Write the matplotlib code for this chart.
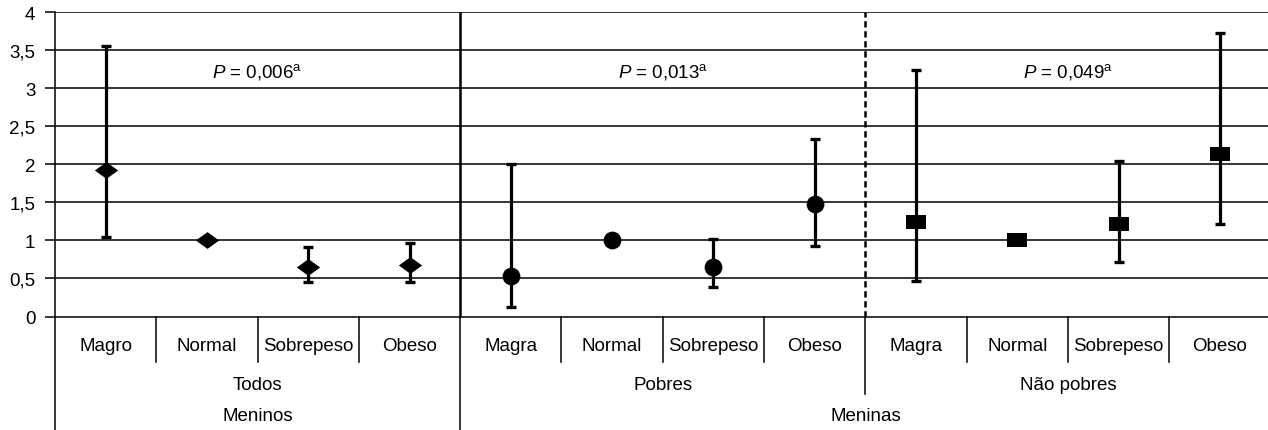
import matplotlib
matplotlib.use("Agg")
import matplotlib.pyplot as plt
import numpy as np

plt.rcParams['font.family'] = ['Liberation Sans', 'DejaVu Sans']
plt.rcParams['mathtext.fontset'] = 'custom'
plt.rcParams['mathtext.rm'] = 'Liberation Sans'
plt.rcParams['mathtext.it'] = 'Liberation Sans:italic'

# ---- data ----
cat_todos = ['Magro', 'Normal', 'Sobrepeso', 'Obeso']
cat_pobres = ['Magra', 'Normal', 'Sobrepeso', 'Obeso']
cat_naopobres = ['Magra', 'Normal', 'Sobrepeso', 'Obeso']
group_labels = ['Todos', 'Pobres', 'Não pobres']
sex_labels = ['Meninos', 'Meninas']
p_labels = ['0,006', '0,013', '0,049']

todos_val = [1.93, 1.00, 0.65, 0.67]
todos_low = [1.04, np.nan, 0.45, 0.45]
todos_high = [3.55, np.nan, 0.91, 0.97]

pobres_val = [0.53, 1.00, 0.65, 1.48]
pobres_low = [0.13, np.nan, 0.39, 0.93]
pobres_high = [2.00, np.nan, 1.02, 2.33]

naopobres_val = [1.24, 1.00, 1.21, 2.14]
naopobres_low = [0.46, np.nan, 0.72, 1.21]
naopobres_high = [3.24, np.nan, 2.04, 3.72]

yticks = [0, 0.5, 1, 1.5, 2, 2.5, 3, 3.5, 4]
ytick_labels = ['0', '0,5', '1', '1,5', '2', '2,5', '3', '3,5', '4']

# ---- figure ----
W, H = 1268, 431
fig = plt.figure(figsize=(W / 100, H / 100), dpi=100)
left_px, right_px, top_px, bot_px = 55, 1270.6, 13, 317.5
ax = fig.add_axes([left_px / W, (H - bot_px) / H,
                   (right_px - left_px) / W, (bot_px - top_px) / H])

ax.set_xlim(-0.5, 11.5)
ax.set_ylim(0, 4)

for yv in yticks[1:]:
    ax.axhline(yv, color='black', lw=1.1, zorder=1)

diamond = [(-1, 0), (0, 0.72), (1, 0), (0, -0.72), (-1, 0)]
rect = [(-1, -0.73), (1, -0.73), (1, 0.73), (-1, 0.73), (-1, -0.73)]

series = [
    (todos_val, todos_low, todos_high, diamond, 16.8),
    (pobres_val, pobres_low, pobres_high, 'o', 12.8),
    (naopobres_val, naopobres_low, naopobres_high, rect, 14.6),
]
FS = 13.5
for gi, (vals, lows, highs, mk, ms) in enumerate(series):
    x = np.arange(4) + gi * 4
    v = np.array(vals)
    lo = np.array(lows)
    hi = np.array(highs)
    err = np.vstack([np.nan_to_num(v - lo), np.nan_to_num(hi - v)])
    has = ~np.isnan(lo)
    ax.errorbar(x[has], v[has], yerr=err[:, has], fmt='none', ecolor='black',
                elinewidth=2.3, capsize=3.8, capthick=2.4, zorder=3)
    ax.plot(x, v, linestyle='none', marker=mk, markersize=ms,
            color='black', markeredgewidth=0, zorder=4)
    ax.text(gi * 4 + 1.5, 3.23,
            r'$\it{P}$ = ' + p_labels[gi] + r'$^{\mathrm{a}}$',
            ha='center', va='center', fontsize=FS)

# group dividers inside plot
ax.axvline(3.5, color='black', lw=1.8, zorder=2)
ax.axvline(7.5, color='black', lw=1.8, linestyle=(0, (2.5, 1.5)), zorder=2)

# axes styling
for s in ['top', 'right']:
    ax.spines[s].set_visible(False)
ax.spines['left'].set_linewidth(1.1)
ax.spines['bottom'].set_linewidth(1.1)
ax.set_yticks(yticks)
ax.set_yticklabels(ytick_labels, fontsize=FS)
ax.tick_params(axis='y', direction='out', length=7.2, width=1.1, pad=7)
ax.set_xticks([])

# category table below axis
tr = ax.get_xaxis_transform()
ax_h = bot_px - top_px
def fy(px):
    return -(px - bot_px) / ax_h

all_cats = cat_todos + cat_pobres + cat_naopobres
for i, c in enumerate(all_cats):
    ax.text(i, fy(347), c, transform=tr, ha='center', va='center', fontsize=FS)
for i in range(1, 12):
    if i % 4 == 0:
        continue
    ax.plot([i - 0.5, i - 0.5], [0, fy(363)], transform=tr, color='black',
            lw=1.1, clip_on=False)
# left edge and group/sex dividers
ax.plot([-0.5, -0.5], [0, fy(431)], transform=tr, color='black', lw=1.1, clip_on=False)
ax.plot([3.5, 3.5], [0, fy(431)], transform=tr, color='black', lw=1.1, clip_on=False)
ax.plot([7.5, 7.5], [0, fy(395)], transform=tr, color='black', lw=1.1, clip_on=False)
for gi, g in enumerate(group_labels):
    ax.text(gi * 4 + 1.5, fy(386), g, transform=tr, ha='center', va='center', fontsize=FS)
ax.text(1.5, fy(417), sex_labels[0], transform=tr, ha='center', va='center', fontsize=FS)
ax.text(7.5, fy(417), sex_labels[1], transform=tr, ha='center', va='center', fontsize=FS)

fig.savefig('out.png', dpi=100)
